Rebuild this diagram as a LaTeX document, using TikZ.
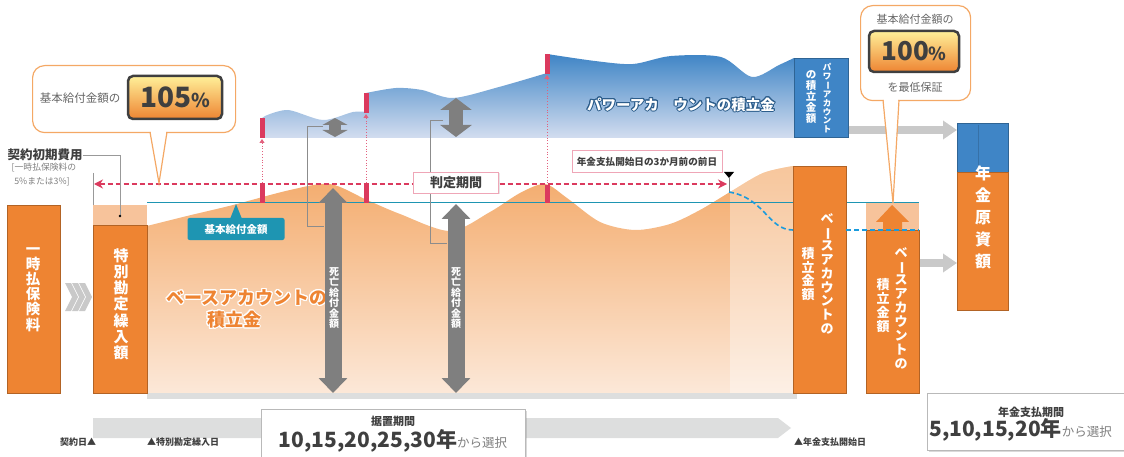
\documentclass[tikz,border=0pt]{standalone}
\usepackage{fontspec}
\setmainfont{Noto Sans CJK JP}
\usepackage{graphicx}
\usepackage{contour}
\contourlength{1pt}
\usetikzlibrary{positioning,arrows.meta,shadows}

\definecolor{boxorange}{HTML}{EE8432}
\definecolor{paleorange}{HTML}{F7C39B}
\definecolor{areatop}{HTML}{F3A765}
\definecolor{areabottom}{HTML}{FCE8D8}
\definecolor{powerblue}{HTML}{3F85C6}
\definecolor{powerlight}{HTML}{D3DDEF}
\definecolor{basicteal}{HTML}{1E95B2}
\definecolor{judgered}{HTML}{DB3A5E}
\definecolor{dashblue}{HTML}{1A9BDD}
\definecolor{arrowgray}{HTML}{7F7F7F}
\definecolor{lightarrow}{HTML}{C9C9C9}
\definecolor{bandgray}{HTML}{DDDEDE}
\definecolor{textgray}{HTML}{3F3F3F}
\definecolor{calloutorange}{HTML}{F4A865}

\newcommand{\fs}[2]{\fontsize{#1}{#2}\selectfont}
\newcommand{\cho}{\rotatebox[origin=c]{-90}{ー}}

\begin{document}
\begin{tikzpicture}[x=1pt,y=-1pt,
  box/.style={fill=boxorange,draw=boxorange!75!black,line width=0.5pt,inner sep=0pt,anchor=north west},
  palebox/.style={fill=paleorange,inner sep=0pt,anchor=north west},
  bluebox/.style={fill=powerblue,draw=powerblue!75!black,line width=0.5pt,inner sep=0pt,anchor=north west},
  vtext/.style={align=center,text=white,inner sep=0pt,anchor=north},
  deathtip/.style={arrowgray,{Triangle[length=15pt,width=28pt]}-{Triangle[length=15pt,width=28pt]}},
  connector/.style={draw=arrowgray!90,line width=1pt},
  flow/.style={lightarrow,line width=8pt,-{Triangle[length=14pt,width=18pt]}},
  redmark/.style={fill=judgered},
  judgebox/.style={draw=judgered!45,line width=0.8pt,fill=white,text=textgray,
    drop shadow={opacity=0.2,shadow xshift=1pt,shadow yshift=-1pt}},
  infobox/.style={draw=gray!55,line width=0.8pt,fill=white,inner sep=0pt,anchor=north west,
    drop shadow={opacity=0.3,shadow xshift=1.5pt,shadow yshift=-1.5pt}},
  callout/.style={draw=calloutorange,line width=1.2pt,fill=white,rounded corners=12pt,anchor=north west,inner sep=0pt},
  badge/.style={draw=textgray,line width=2.5pt,rounded corners=5pt,top color=orange!30!yellow!40,
    bottom color=boxorange,text=textgray,font=\bfseries\fs{28}{28},inner sep=0pt},
  note/.style={text=textgray,font=\bfseries\fs{9}{10},inner sep=0pt}
  ]
  \useasboundingbox (0,0) rectangle (1124,457);

  % base account
  \begin{scope}
    \clip (147,393) -- plot[smooth] coordinates {(147,226) (187,216) (233,205) (290,190) (330,184)
      (367,200) (400,214) (450,231) (490,212) (520,193) (545,184) (567,198) (600,222) (635,230)
      (670,224) (700,210) (730,192) (763,173) (793,166)} -- (793,393) -- cycle;
    \shade[top color=areatop,bottom color=areabottom] (147,160) rectangle (793,393);
    \fill[white,opacity=0.35] (730,160) rectangle (793,393);
  \end{scope}
  \fill[bandgray] (147,393) rectangle (797,399);

  % power account
  \shade[top color=powerblue,bottom color=powerlight] (262,138) -- (262,118)
    -- plot[smooth] coordinates {(265,116) (288,110) (323,120) (353,112) (366,112)}
    -- plot[smooth] coordinates {(366,93) (396,88) (422,90) (453,98) (499,87) (547,73)}
    -- plot[smooth] coordinates {(547,54) (595,61) (633,64) (671,56) (721,57) (752,77) (779,65) (794,58)}
    -- (794,138) -- cycle;
  \node[text=white,font=\bfseries\fs{14.5}{15}] (powertxt) at (681,105)
    {\contour{powerblue!70!black}{パワーアカ\hspace{1em}ウントの積立金}};

  \draw[basicteal,line width=1pt] (147,203) -- (919,203);

  % boxes
  \node[box,minimum width=53,minimum height=188] (premium) at (7,205) {};
  \node[palebox,minimum width=54,minimum height=20] (cost) at (93,205) {};
  \node[box,minimum width=54,minimum height=168] (special) at (93,225) {};
  \node[box,minimum width=53,minimum height=227] (basesum) at (793,166) {};
  \node[palebox,minimum width=53,minimum height=27] (guarantee) at (866,203) {};
  \node[box,minimum width=53,minimum height=163] (baseright) at (866,230) {};
  \node[bluebox,minimum width=54,minimum height=79] (powersum) at (794,58) {};
  \node[bluebox,minimum width=51,minimum height=49] (fundtop) at (957,123) {};
  \node[box,minimum width=51,minimum height=138] (fund) at (957,172) {};
  \draw[powerblue!85!black,line width=0.5pt] (978,125) -- (978,171);

  \node[vtext,font=\bfseries\fs{14.5}{15.2}] (premiumtxt) at (33,247) {一\\時\\払\\保\\険\\料};
  \node[vtext,font=\bfseries\fs{15}{16.3}] (specialtxt) at (121,248) {特\\別\\勘\\定\\繰\\入\\額};
  \node[vtext,font=\bfseries\fs{13}{13.8}] (basesumA) at (827,213) {ベ\\\cho\\ス\\ア\\カ\\ウ\\ン\\ト\\の};
  \node[vtext,font=\bfseries\fs{13}{13.8}] (basesumB) at (808,247) {積\\立\\金\\額};
  \node[vtext,font=\bfseries\fs{13}{13.9}] (baserightA) at (901,247) {ベ\\\cho\\ス\\ア\\カ\\ウ\\ン\\ト\\の};
  \node[vtext,font=\bfseries\fs{13}{13.9}] (baserightB) at (883,278) {積\\立\\金\\額};
  \node[vtext,font=\bfseries\fs{8.5}{8.7}] (powersumA) at (827,63) {パ\\ワ\\\cho\\ア\\カ\\ウ\\ン\\ト};
  \node[vtext,font=\bfseries\fs{10.5}{11}] (powersumB) at (811,70) {の\\積\\立\\金\\額};
  \node[vtext,font=\bfseries\fs{16}{22}] (fundtxt) at (983,166) {年\\金\\原\\資\\額};

  \node[text=boxorange,font=\bfseries\fs{18}{19},inner sep=0pt] (basetxtA) at (247,298) {\contour{white}{ベースアカウントの}};
  \node[text=boxorange,font=\bfseries\fs{18}{19},inner sep=0pt] (basetxtB) at (234,320) {\contour{white}{積立金}};

  % chevrons
  \foreach \i in {0,1,2}
    \fill[lightarrow] (65+7*\i,283) -- (71+7*\i,283) -- (78+7*\i,297) -- (71+7*\i,311)
      -- (65+7*\i,311) -- (72+7*\i,297) -- cycle;

  % up arrow of guarantee
  \fill[boxorange] (883,230) -- (883,222) -- (876,222) -- (892,205) -- (909,222) -- (902,222) -- (902,230) -- cycle;

  % flows to fund
  \draw[flow] (powersum.east |- 0,130) -- (fundtop.west |- 0,130);
  \draw[flow] (baseright.east |- 0,263) -- (fund.west |- 0,263);

  % death benefit and gain arrows
  \draw[deathtip,line width=17pt] (333,188) -- (333,393);
  \draw[deathtip,line width=17pt] (456,204) -- (456,393);
  \draw[arrowgray,line width=12pt,{Triangle[length=7pt,width=25pt]}-{Triangle[length=7pt,width=25pt]}] (335,118) -- (335,137);
  \draw[arrowgray,line width=14pt,{Triangle[length=12pt,width=31pt]}-{Triangle[length=12pt,width=31pt]}] (456,98) -- (456,137);
  \draw[connector] (323,127) -- (307,127) -- (307,226) -- (324,226);
  \draw[connector] (443,121) -- (430,121) -- (430,243) -- (447,243);
  \node[vtext,font=\bfseries\fs{10}{10.5}] (deathA) at (334,267) {死\\亡\\給\\付\\金\\額};
  \node[vtext,font=\bfseries\fs{10}{10.5}] (deathB) at (456,267) {死\\亡\\給\\付\\金\\額};

  % judgement period
  \coordinate (judgestart) at (94,184);
  \coordinate (judgeend) at (727,184);
  \draw[judgered,line width=1.4pt,dash pattern=on 5pt off 3pt,
    {Stealth[length=9pt,width=9pt]}-{Stealth[length=9pt,width=9pt]}] (judgestart) -- (judgeend);
  \foreach \x/\t in {262/118,366/93,547/54} {
    \fill[redmark] (\x-2.5,\t) rectangle (\x+2.5,\t+20);
    \fill[redmark] (\x-2.5,185) rectangle (\x+2.5,203);
    \draw[judgered!80,line width=0.8pt,dotted,{Triangle[length=4pt,width=5pt]}-] (\x,\t+21) -- (\x,183);
  }
  \node[judgebox,minimum width=85,minimum height=21,font=\bfseries\fs{13}{14}] (judge) at (456,182.5) {判定期間};
  \node[judgebox,minimum width=150,minimum height=22,font=\bfseries\fs{9.6}{10}] (notice) at (647,161.5) {年金支払開始日の3か月前の前日};
  \fill[black] (724,172) -- (734,172) -- (729,178) -- cycle;
  \draw[gray,line width=0.6pt] (729,178) -- (729,192);
  \draw[dashblue,line width=1.6pt,dash pattern=on 5pt off 3pt] (729,192) .. controls (765,198) and (768,230) .. (793,230);
  \draw[dashblue,line width=1.6pt,dash pattern=on 5pt off 3pt] (846,230) -- (919,230);

  % basic benefit label
  \fill[basicteal] (230,219) -- (236,204) -- (242,219) -- cycle;
  \node[fill=basicteal,text=white,rounded corners=2pt,minimum width=97,minimum height=22,inner sep=0pt,
    font=\bfseries\fs{10.5}{11}] (basiclabel) at (236,229) {基本給付金額};

  % initial cost
  \node[text=textgray,font=\bfseries\fs{12.5}{13},inner sep=0pt] (costlabel) at (45,155) {契約初期費用};
  \node[text=gray,font=\fs{8.8}{10},inner sep=0pt] (costnoteA) at (44,168) {[一時払保険料の};
  \node[text=gray,font=\fs{8.8}{10},inner sep=0pt] (costnoteB) at (42,182) {5\%または3\%]};
  \coordinate (costdot) at (120,216);
  \draw[gray!80,line width=0.6pt] (costlabel.east) -- (costlabel.east -| costdot) -- (costdot);
  \fill[black] (costdot) circle (1.3pt);
  \draw[gray!80,line width=0.6pt] (93,173) -- (cost.north west);

  % callouts
  \node[callout,minimum width=203,minimum height=67] (bubbleA) at (32,65) {};
  \fill[white] (150.5,130) -- (159,183) -- (166.5,130) -- cycle;
  \draw[calloutorange,line width=1.2pt] (150,132) -- (159,183) -- (167,132);
  \node[text=gray!80!black,font=\fs{11.5}{12},inner sep=0pt] (bubbleAtxt) at (80,98) {基本給付金額の};
  \node[badge,minimum width=94,minimum height=43] (rateA) at (175,97.5) {105{\fs{19}{19}\%}};

  \node[callout,minimum width=110,minimum height=95] (bubbleB) at (860,5) {};
  \fill[white] (883.5,98) -- (893,203) -- (898.5,98) -- cycle;
  \draw[calloutorange,line width=1.2pt] (883,100) -- (893,203) -- (899,100);
  \node[text=gray!80!black,font=\fs{11}{12},inner sep=0pt] (bubbleBtxt) at (915,19) {基本給付金額の};
  \node[badge,minimum width=90,minimum height=41,font=\bfseries\fs{26}{26}] (rateB) at (914,51.5) {100{\fs{18}{18}\%}};
  \node[text=gray!80!black,font=\fs{11}{12},inner sep=0pt] (bubbleBtxt2) at (915,87) {を最低保証};

  % bottom timeline
  \fill[bandgray] (93,418) -- (778,418) -- (791,428) -- (778,438) -- (93,438) -- cycle;
  \node[note] (contractday) at (78,442) {契約日▲};
  \node[note] (specialday) at (183,442) {▲特別勘定繰入日};
  \node[note] (payday) at (830,442) {▲年金支払開始日};

  \node[infobox,minimum width=264,minimum height=60] (deferral) at (261,409) {};
  \node[text=textgray,font=\bfseries\fs{11}{12},inner sep=0pt] (deferraltitle) at (393,421) {据置期間};
  \node[text=textgray,inner sep=0pt] (deferraltxt) at (393,441)
    {{\bfseries\fs{21}{22}10,15,20,25,30年}{\fs{12.5}{13}\color{gray}から選択}};

  \node[infobox,minimum width=210,minimum height=57] (payperiod) at (927,393) {};
  \node[text=textgray,font=\bfseries\fs{11}{12},inner sep=0pt] (paytitle) at (1031,412) {年金支払期間};
  \node[text=textgray,inner sep=0pt,anchor=west] (paytxt) at (929,430)
    {{\bfseries\fs{21}{22}5,10,15,20年}{\fs{12.5}{13}\color{gray}から選択}};
\end{tikzpicture}
\end{document}
